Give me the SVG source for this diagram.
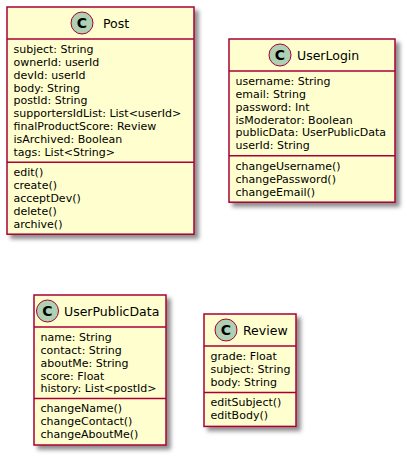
<svg xmlns="http://www.w3.org/2000/svg" width="407" height="457" viewBox="0 0 407 457">
<defs>
<filter id="sh" x="-5%" y="-5%" width="115%" height="115%">
<feGaussianBlur in="SourceAlpha" stdDeviation="2" result="b"/>
<feColorMatrix in="b" type="matrix" values="0 0 0 0 0  0 0 0 0 0  0 0 0 0 0  0 0 0 0.45 0" result="c"/>
<feOffset in="c" dx="4" dy="4" result="o"/>
<feMerge><feMergeNode in="o"/><feMergeNode in="SourceGraphic"/></feMerge>
</filter>
</defs>
<style>
.box{fill:#FEFECE;stroke:#A80036;stroke-width:1.5}
.sep{stroke:#A80036;stroke-width:1.5}
.ci{fill:#ADD1B2;stroke:#A80036;stroke-width:1}
.c{font-family:"DejaVu Sans",sans-serif;font-size:14px;font-weight:bold;fill:#000;text-anchor:middle}
.t{font-family:"DejaVu Sans",sans-serif;font-size:12.5px;fill:#000}
.m{font-family:"DejaVu Sans",sans-serif;font-size:11px;fill:#000}
</style>
<g id="connectors"></g>
<g id="Post">
<rect class="box" x="7" y="7" width="187" height="227.2" filter="url(#sh)"/>
<circle class="ci" cx="82" cy="23" r="11"/>
<text class="c" x="82" y="28">C</text>
<text class="t" x="103" y="27.5">Post</text>
<line class="sep" x1="7" y1="39" x2="194" y2="39"/>
<text class="m" x="13.5" y="53.1">subject: String</text>
<text class="m" x="13.5" y="65.9">ownerId: userId</text>
<text class="m" x="13.5" y="78.7">devId: userId</text>
<text class="m" x="13.5" y="91.5">body: String</text>
<text class="m" x="13.5" y="104.3">postId: String</text>
<text class="m" x="13.5" y="117.1">supportersIdList: List&lt;userId&gt;</text>
<text class="m" x="13.5" y="129.9">finalProductScore: Review</text>
<text class="m" x="13.5" y="142.7">isArchived: Boolean</text>
<text class="m" x="13.5" y="155.5">tags: List&lt;String&gt;</text>
<line class="sep" x1="7" y1="162.2" x2="194" y2="162.2"/>
<text class="m" x="13.5" y="176.3">edit()</text>
<text class="m" x="13.5" y="189.1">create()</text>
<text class="m" x="13.5" y="201.9">acceptDev()</text>
<text class="m" x="13.5" y="214.7">delete()</text>
<text class="m" x="13.5" y="227.5">archive()</text>
</g>
<g id="UserLogin">
<rect class="box" x="229" y="39" width="166" height="163.2" filter="url(#sh)"/>
<circle class="ci" cx="280" cy="55" r="11"/>
<text class="c" x="280" y="60">C</text>
<text class="t" x="297" y="59.5">UserLogin</text>
<line class="sep" x1="229" y1="71" x2="395" y2="71"/>
<text class="m" x="235.5" y="85.1">username: String</text>
<text class="m" x="235.5" y="97.9">email: String</text>
<text class="m" x="235.5" y="110.7">password: Int</text>
<text class="m" x="235.5" y="123.5">isModerator: Boolean</text>
<text class="m" x="235.5" y="136.3">publicData: UserPublicData</text>
<text class="m" x="235.5" y="149.1">userId: String</text>
<line class="sep" x1="229" y1="155.8" x2="395" y2="155.8"/>
<text class="m" x="235.5" y="169.9">changeUsername()</text>
<text class="m" x="235.5" y="182.7">changePassword()</text>
<text class="m" x="235.5" y="195.5">changeEmail()</text>
</g>
<g id="UserPublicData">
<rect class="box" x="34" y="295" width="132" height="150" filter="url(#sh)"/>
<circle class="ci" cx="47.5" cy="311" r="11"/>
<text class="c" x="47.5" y="316">C</text>
<text class="t" x="64" y="315.5">UserPublicData</text>
<line class="sep" x1="34" y1="327" x2="166" y2="327"/>
<text class="m" x="40.5" y="341.1">name: String</text>
<text class="m" x="40.5" y="353.9">contact: String</text>
<text class="m" x="40.5" y="366.7">aboutMe: String</text>
<text class="m" x="40.5" y="379.5">score: Float</text>
<text class="m" x="40.5" y="392.3">history: List&lt;postId&gt;</text>
<line class="sep" x1="34" y1="398.4" x2="166" y2="398.4"/>
<text class="m" x="40.5" y="412.3">changeName()</text>
<text class="m" x="40.5" y="425.1">changeContact()</text>
<text class="m" x="40.5" y="437.9">changeAboutMe()</text>
</g>
<g id="Review">
<rect class="box" x="204" y="314" width="92" height="112.4" filter="url(#sh)"/>
<circle class="ci" cx="226" cy="330" r="11"/>
<text class="c" x="226" y="335">C</text>
<text class="t" x="243" y="334.5">Review</text>
<line class="sep" x1="204" y1="346" x2="296" y2="346"/>
<text class="m" x="210.5" y="360.1">grade: Float</text>
<text class="m" x="210.5" y="372.9">subject: String</text>
<text class="m" x="210.5" y="385.7">body: String</text>
<line class="sep" x1="204" y1="392.4" x2="296" y2="392.4"/>
<text class="m" x="210.5" y="406.3">editSubject()</text>
<text class="m" x="210.5" y="419.1">editBody()</text>
</g>
</svg>
